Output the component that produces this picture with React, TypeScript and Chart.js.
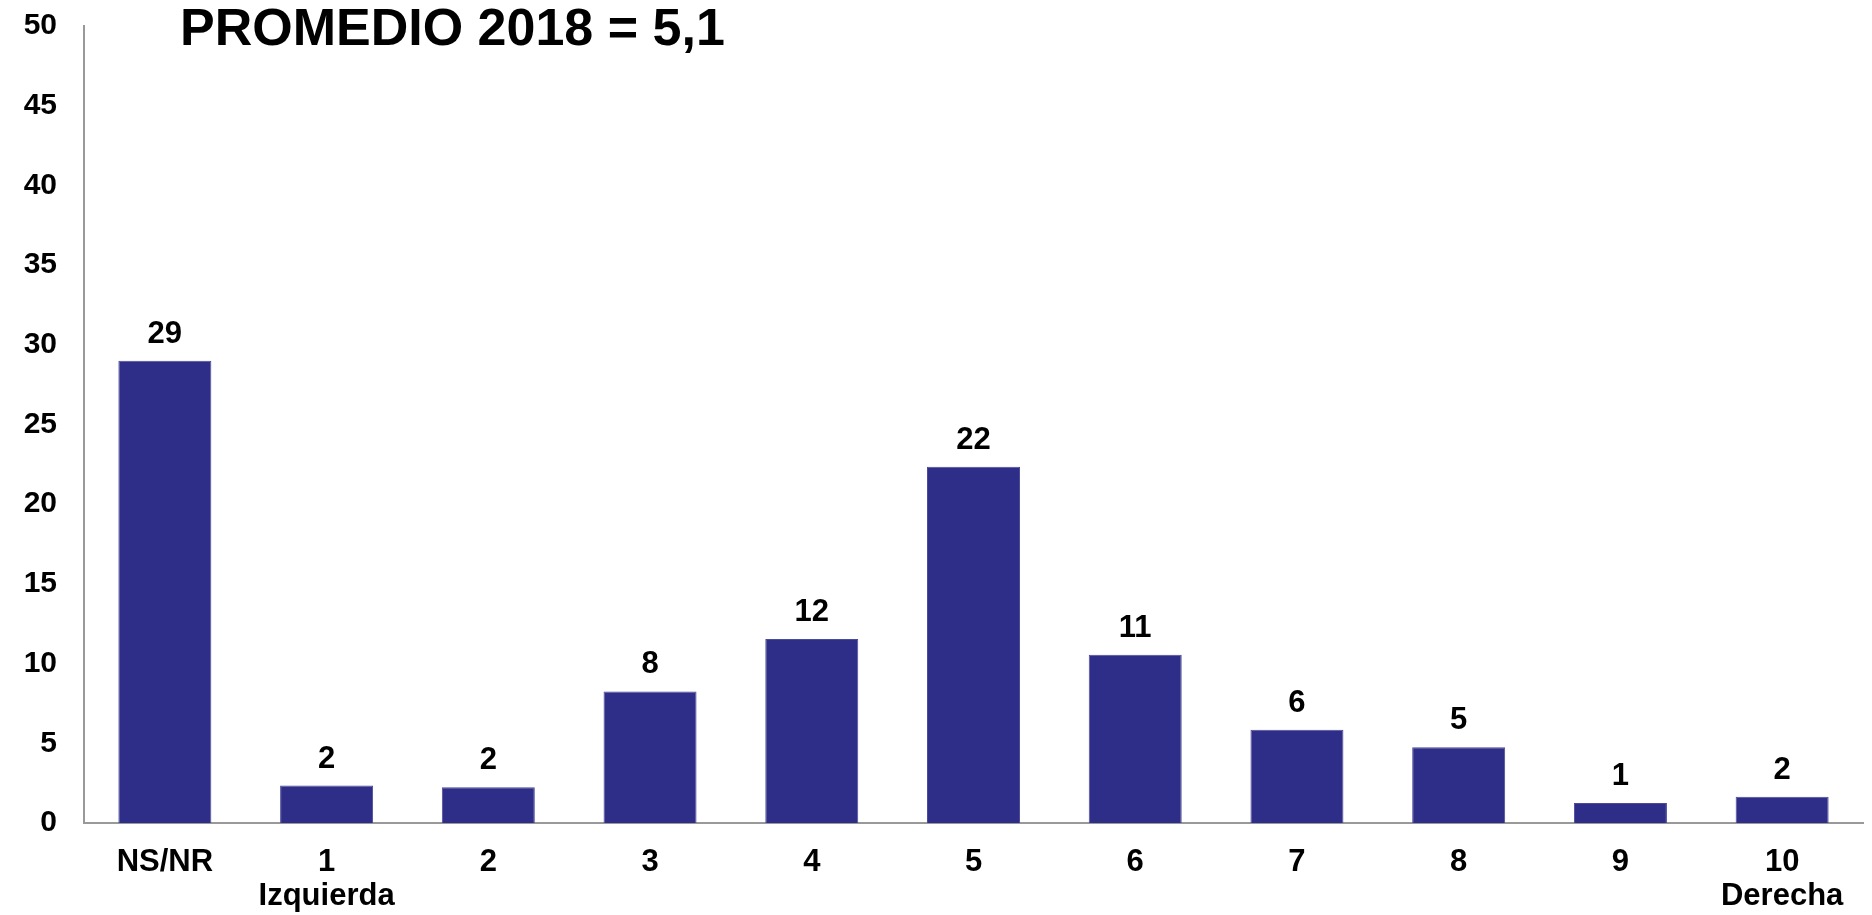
import React, { useEffect, useRef } from "react";
import { Chart, registerables } from "chart.js";

Chart.register(...registerables);

const categories: (string | string[])[] = [
  "NS/NR",
  ["1", "Izquierda"],
  "2",
  "3",
  "4",
  "5",
  "6",
  "7",
  "8",
  "9",
  ["10", "Derecha"],
];
const values: number[] = [29.0, 2.35, 2.25, 8.25, 11.55, 22.35, 10.55, 5.85, 4.75, 1.25, 1.65];
const valueLabels: string[] = ["29", "2", "2", "8", "12", "22", "11", "6", "5", "1", "2"];
const yTicks: number[] = [0, 5, 10, 15, 20, 25, 30, 35, 40, 45, 50];
const titleText = "PROMEDIO 2018 = 5,1";

const FONT = "'Liberation Sans', Arial, Helvetica, sans-serif";
const BAR_COLOR = "#2E2E88";

const valueLabelPlugin = {
  id: "valueLabels",
  afterDatasetsDraw(chart: any) {
    const ctx = chart.ctx;
    const meta = chart.getDatasetMeta(0);
    ctx.save();
    ctx.font = `bold 31px ${FONT}`;
    ctx.fillStyle = "#000";
    ctx.textAlign = "center";
    ctx.textBaseline = "alphabetic";
    meta.data.forEach((bar: any, i: number) => {
      ctx.fillText(valueLabels[i], bar.x, bar.y - 18);
    });
    ctx.restore();
  },
};

const titlePlugin = {
  id: "insideTitle",
  afterDraw(chart: any) {
    const ctx = chart.ctx;
    const area = chart.chartArea;
    ctx.save();
    ctx.font = `bold 52px ${FONT}`;
    ctx.fillStyle = "#000";
    ctx.textAlign = "left";
    ctx.textBaseline = "alphabetic";
    ctx.fillText(titleText, area.left + 96, area.top + 19);
    ctx.restore();
  },
};

export default function App() {
  const canvasRef = useRef<HTMLCanvasElement | null>(null);

  useEffect(() => {
    if (!canvasRef.current) return;
    const chart = new Chart(canvasRef.current, {
      type: "bar",
      data: {
        labels: categories,
        datasets: [
          {
            data: values,
            backgroundColor: BAR_COLOR,
            borderColor: "#4a4a9c",
            borderWidth: 1,
            barPercentage: 0.575,
            categoryPercentage: 1,
          },
        ],
      },
      options: {
        animation: false,
        responsive: true,
        maintainAspectRatio: false,
        layout: { padding: { top: 26, right: 9, left: 0, bottom: 0 } },
        plugins: {
          legend: { display: false },
          title: { display: false },
          tooltip: { enabled: false },
        },
        scales: {
          x: {
            grid: { display: false, drawTicks: false },
            border: { display: true, color: "#999999", width: 2 },
            ticks: {
              color: "#000",
              font: { family: FONT, size: 31, weight: "bold", lineHeight: 1.1 },
              padding: 22,
              maxRotation: 0,
              autoSkip: false,
            },
            afterFit(scale: any) {
              scale.height = 92;
            },
          },
          y: {
            min: 0,
            max: 50,
            afterBuildTicks(scale: any) {
              scale.ticks = yTicks.map((v) => ({ value: v }));
            },
            grid: { display: false, drawTicks: true, tickLength: 25 },
            border: { display: true, color: "#999999", width: 2 },
            ticks: {
              color: "#000",
              font: { family: FONT, size: 30, weight: "bold" },
              padding: 2,
            },
            afterFit(scale: any) {
              scale.width = 84;
            },
          },
        },
      },
      plugins: [valueLabelPlugin, titlePlugin],
    });
    return () => chart.destroy();
  }, []);

  return (
    <div
      style={{
        position: "fixed",
        left: 0,
        top: 0,
        width: "1872px",
        height: "915px",
        background: "#fff",
      }}
    >
      <canvas ref={canvasRef} />
    </div>
  );
}
